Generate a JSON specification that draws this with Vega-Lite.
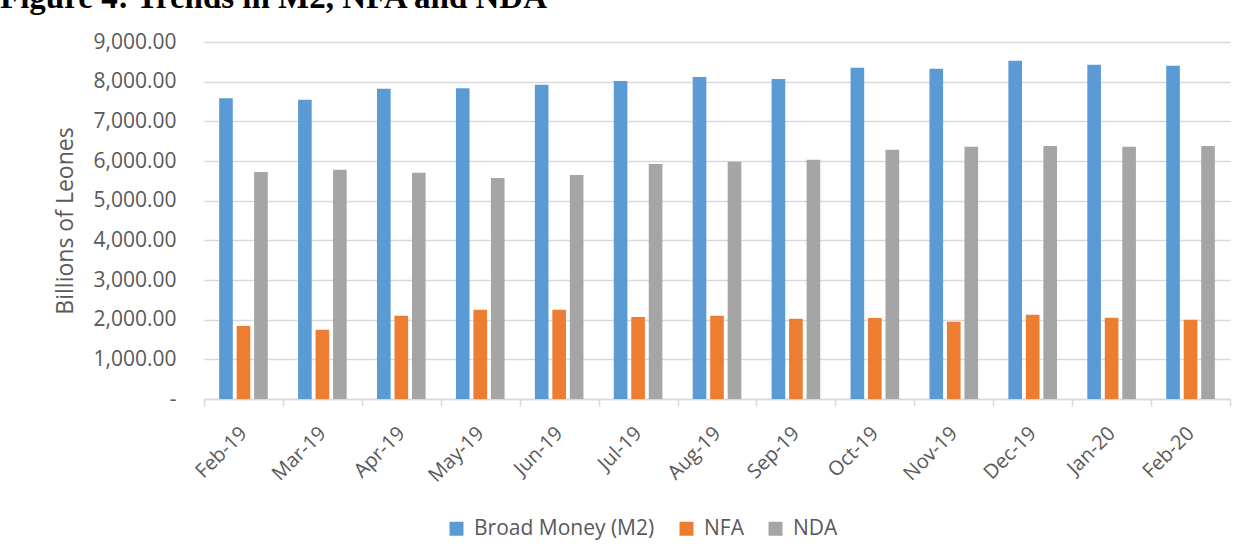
{
  "$schema": "https://vega.github.io/schema/vega-lite/v6.json",
  "width": 1026,
  "height": 357,
  "autosize": {"type": "none"},
  "padding": {"left": 204, "top": 42, "right": 13, "bottom": 158},
  "background": "white",
  "title": {
    "text": "Figure 4: Trends in M2, NFA and NDA",
    "anchor": "start",
    "frame": "group",
    "font": "Liberation Serif",
    "fontSize": 33,
    "fontWeight": "bold",
    "color": "#000000",
    "baseline": "alphabetic",
    "offset": -10,
    "dx": -204
  },
  "data": {
    "values": [
      {"month": "Feb-19", "series": "Broad Money (M2)", "value": 7580},
      {"month": "Feb-19", "series": "NFA", "value": 1840},
      {"month": "Feb-19", "series": "NDA", "value": 5723},
      {"month": "Mar-19", "series": "Broad Money (M2)", "value": 7546},
      {"month": "Mar-19", "series": "NFA", "value": 1748},
      {"month": "Mar-19", "series": "NDA", "value": 5782},
      {"month": "Apr-19", "series": "Broad Money (M2)", "value": 7824},
      {"month": "Apr-19", "series": "NFA", "value": 2101},
      {"month": "Apr-19", "series": "NDA", "value": 5706},
      {"month": "May-19", "series": "Broad Money (M2)", "value": 7832},
      {"month": "May-19", "series": "NFA", "value": 2252},
      {"month": "May-19", "series": "NDA", "value": 5571},
      {"month": "Jun-19", "series": "Broad Money (M2)", "value": 7924},
      {"month": "Jun-19", "series": "NFA", "value": 2252},
      {"month": "Jun-19", "series": "NDA", "value": 5647},
      {"month": "Jul-19", "series": "Broad Money (M2)", "value": 8017},
      {"month": "Jul-19", "series": "NFA", "value": 2067},
      {"month": "Jul-19", "series": "NDA", "value": 5924},
      {"month": "Aug-19", "series": "Broad Money (M2)", "value": 8118},
      {"month": "Aug-19", "series": "NFA", "value": 2101},
      {"month": "Aug-19", "series": "NDA", "value": 5983},
      {"month": "Sep-19", "series": "Broad Money (M2)", "value": 8067},
      {"month": "Sep-19", "series": "NFA", "value": 2025},
      {"month": "Sep-19", "series": "NDA", "value": 6034},
      {"month": "Oct-19", "series": "Broad Money (M2)", "value": 8353},
      {"month": "Oct-19", "series": "NFA", "value": 2042},
      {"month": "Oct-19", "series": "NDA", "value": 6286},
      {"month": "Nov-19", "series": "Broad Money (M2)", "value": 8328},
      {"month": "Nov-19", "series": "NFA", "value": 1950},
      {"month": "Nov-19", "series": "NDA", "value": 6361},
      {"month": "Dec-19", "series": "Broad Money (M2)", "value": 8529},
      {"month": "Dec-19", "series": "NFA", "value": 2126},
      {"month": "Dec-19", "series": "NDA", "value": 6378},
      {"month": "Jan-20", "series": "Broad Money (M2)", "value": 8429},
      {"month": "Jan-20", "series": "NFA", "value": 2050},
      {"month": "Jan-20", "series": "NDA", "value": 6361},
      {"month": "Feb-20", "series": "Broad Money (M2)", "value": 8403},
      {"month": "Feb-20", "series": "NFA", "value": 2000},
      {"month": "Feb-20", "series": "NDA", "value": 6378}
    ]
  },
  "mark": {"type": "bar"},
  "encoding": {
    "x": {
      "field": "month",
      "type": "nominal",
      "sort": ["Feb-19", "Mar-19", "Apr-19", "May-19", "Jun-19", "Jul-19", "Aug-19", "Sep-19", "Oct-19", "Nov-19", "Dec-19", "Jan-20", "Feb-20"],
      "scale": {"paddingInner": 0, "paddingOuter": 0},
      "axis": {
        "title": null,
        "labelAngle": -45,
        "labelAlign": "right",
        "labelBaseline": "middle",
        "labelFont": "Open Sans",
        "labelFontSize": 20,
        "labelColor": "#595959",
        "labelPadding": 24,
        "tickBand": "extent",
        "domainColor": "#d9d9d9",
        "domainWidth": 1.5,
        "tickColor": "#d9d9d9",
        "tickWidth": 1.5,
        "tickSize": 7,
        "grid": false
      }
    },
    "xOffset": {
      "field": "series",
      "type": "nominal",
      "sort": ["Broad Money (M2)", "NFA", "NDA"],
      "scale": {"paddingInner": 0.22, "paddingOuter": 0.866}
    },
    "y": {
      "field": "value",
      "type": "quantitative",
      "scale": {"domain": [0, 9000], "nice": false},
      "axis": {
        "title": "Billions of Leones",
        "titleFont": "Open Sans",
        "titleFontSize": 23,
        "titleFontWeight": "normal",
        "titleColor": "#595959",
        "titlePadding": 16,
        "labelFont": "Open Sans",
        "labelFontSize": 21,
        "labelColor": "#595959",
        "labelPadding": 28,
        "labelExpr": "datum.value == 0 ? '-\u00a0\u00a0\u00a0' : format(datum.value, ',.2f')",
        "values": [0, 1000, 2000, 3000, 4000, 5000, 6000, 7000, 8000, 9000],
        "ticks": false,
        "domain": false,
        "grid": true,
        "gridColor": "#d9d9d9",
        "gridWidth": 1.5
      }
    },
    "color": {
      "field": "series",
      "type": "nominal",
      "sort": ["Broad Money (M2)", "NFA", "NDA"],
      "scale": {"domain": ["Broad Money (M2)", "NFA", "NDA"], "range": ["#5b9bd5", "#ed7d31", "#a5a5a5"]},
      "legend": {
        "title": null,
        "orient": "none",
        "legendX": 242,
        "legendY": 476,
        "direction": "horizontal",
        "symbolType": "square",
        "symbolSize": 196,
        "symbolStrokeWidth": 0,
        "labelFont": "Open Sans",
        "labelFontSize": 21,
        "labelColor": "#595959",
        "labelLimit": 0,
        "columnPadding": 21,
        "labelOffset": 7
      }
    }
  },
  "config": {
    "view": {"stroke": null},
    "font": "Open Sans"
  }
}
